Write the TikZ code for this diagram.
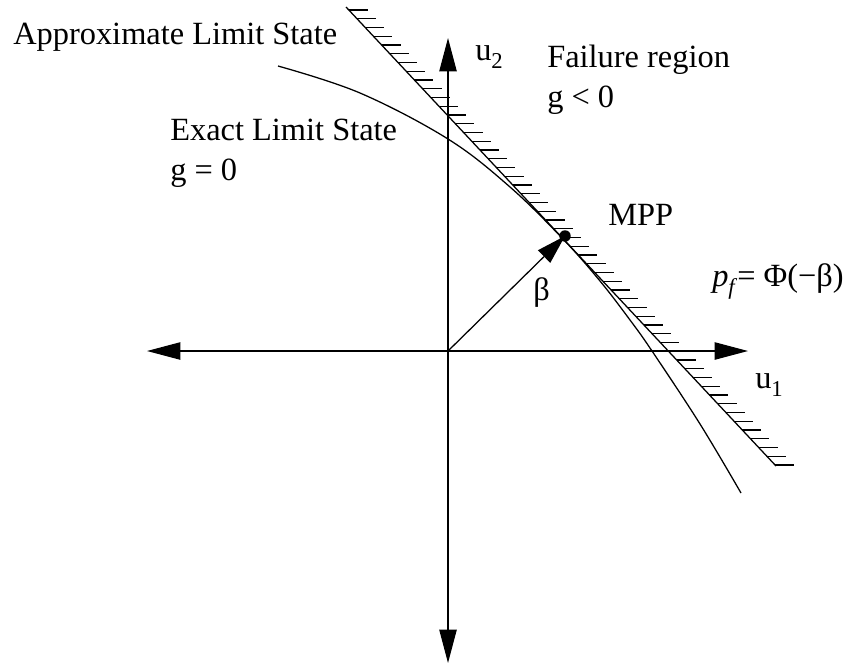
\documentclass[tikz,border=0pt]{standalone}
\usepackage{fontspec}
\setmainfont{Liberation Serif}
\usetikzlibrary{arrows.meta,calc}
\begin{document}
\begin{tikzpicture}[x=0.75pt,y=-0.75pt,
  txt/.style={font=\fontsize{24.3}{29}\selectfont, inner sep=0pt, anchor=base west},
  ln/.style={line width=0.95pt},
  axis/.style={line width=0.95pt, {Triangle[length=25pt,width=13pt]}-{Triangle[length=25pt,width=13pt]}}
]
\useasboundingbox (0,0) rectangle (862,664);
\coordinate (O) at (448,351);
\coordinate (L) at (147,351);
\coordinate (R) at (748,351);
\coordinate (T) at (448,38);
\coordinate (Bt) at (448,663);
\coordinate (A) at (346,7);
\coordinate (B) at (776,466);
\coordinate (M) at (565,236);
% axes
\draw[axis] (L) -- (R);
\draw[axis] (Bt) -- (T);
% approximate limit state (tangent line) with hatching
\draw[ln] (A) -- (B);
\foreach \k in {0,...,52}
  \draw[ln] ($(A)!{(3+8.75*\k)/459}!(B)$) -- ++(19,0);
% exact limit state
\draw[ln] plot[smooth, tension=0.6] coordinates {(278,66) (360,93) (448,139) (510,187) (563,239) (600,281) (630,320) (652,351) (700,424) (741,493)};
% beta vector and MPP
\draw[ln, -{Triangle[length=22pt,width=13pt]}] (O) -- (M);
\fill (M) circle[radius=4.3pt];
% labels
\node[txt] (approx) at (13,44) {Approximate Limit State};
\node[txt] (exact) at (170,140) {Exact Limit State};
\node[txt] (g0) at (170,180) {g = 0};
\node[txt] (fail) at (547,67) {Failure region};
\node[txt] (gl0) at (547,107) {g {<} 0};
\node[txt] (u2) at (475,60) {u\raisebox{-0.25em}{\fontsize{17}{17}\selectfont 2}};
\node[txt] (mpp) at (608,225) {MPP};
\node[txt] (beta) at (533,300) {β};
\node[txt] (pf) at (712,286) {\textit{p}\raisebox{-0.25em}{\fontsize{17}{17}\selectfont\textit{f}}= Φ(−β)};
\node[txt] (u1) at (755,388) {u\raisebox{-0.25em}{\fontsize{17}{17}\selectfont 1}};
\end{tikzpicture}
\end{document}
